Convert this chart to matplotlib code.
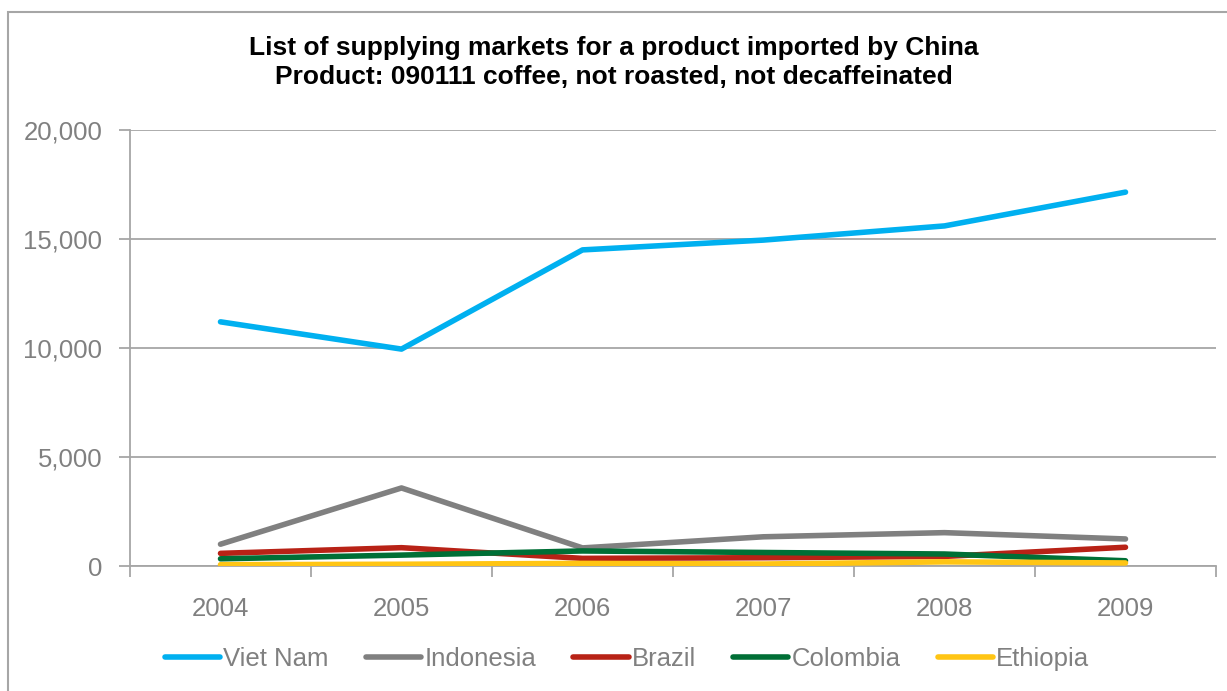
import matplotlib
matplotlib.use("Agg")
import matplotlib.pyplot as plt
from matplotlib.patches import Rectangle
from matplotlib.ticker import FuncFormatter, MultipleLocator
import numpy as np

plt.rcParams['font.family'] = ['Liberation Sans', 'DejaVu Sans']

years = ["2004", "2005", "2006", "2007", "2008", "2009"]
viet_nam = [11200, 9950, 14500, 14950, 15600, 17150]
indonesia = [1000, 3580, 830, 1340, 1530, 1240]
brazil = [580, 840, 350, 380, 440, 860]
colombia = [330, 500, 690, 620, 550, 240]
ethiopia = [60, 80, 120, 90, 190, 140]

series = [
    ("Viet Nam", viet_nam, "#00B0F0"),
    ("Indonesia", indonesia, "#808080"),
    ("Brazil", brazil, "#B82216"),
    ("Colombia", colombia, "#006F36"),
    ("Ethiopia", ethiopia, "#FFC514"),
]

W, H = 1227, 691
fig = plt.figure(figsize=(W / 100, H / 100), dpi=100)
fig.patch.set_facecolor("white")

# outer chart frame
fig.add_artist(Rectangle((8 / W, -0.1), 1.2, (H - 12) / H + 0.1,
                         transform=fig.transFigure, fill=False,
                         edgecolor="#A6A6A6", linewidth=1.5))

ax = fig.add_axes([130 / W, (H - 566) / H, (1216 - 130) / W, (566 - 130) / H])

x = np.arange(len(years))
for name, vals, color in series:
    ax.plot(x, vals, color=color, linewidth=4.0, label=name,
            solid_capstyle="round", solid_joinstyle="round", zorder=3)

ax.set_xlim(-0.5, len(years) - 0.5)
ax.set_ylim(0, 20000)
ax.yaxis.set_major_locator(MultipleLocator(5000))
ax.yaxis.set_major_formatter(FuncFormatter(lambda v, p: f"{int(v):,}"))
ax.set_xticks(x)
ax.set_xticklabels(years)
ax.set_xticks(np.arange(-0.5, len(years)), minor=True)

ax.grid(axis="y", color="#A6A6A6", linewidth=1.3, zorder=0)
for side in ["top", "right"]:
    ax.spines[side].set_visible(False)
for side in ["left", "bottom"]:
    ax.spines[side].set_color("#A6A6A6")
    ax.spines[side].set_linewidth(1.3)

ax.tick_params(axis="y", which="major", length=8, width=1.3, color="#A6A6A6",
               labelcolor="#808080", labelsize=18.5, pad=12)
ax.tick_params(axis="x", which="major", length=0, labelcolor="#808080",
               labelsize=18.5, pad=22)
ax.tick_params(axis="x", which="minor", length=8, width=1.3, color="#A6A6A6")

fig.text(0.5, (H - 48) / H, "List of supplying markets for a product imported by China",
         ha="center", va="center", fontsize=19, fontweight="bold", color="black")
fig.text(0.5, (H - 77) / H, "Product: 090111 coffee, not roasted, not decaffeinated",
         ha="center", va="center", fontsize=19, fontweight="bold", color="black")

leg = fig.legend(loc="center", bbox_to_anchor=(627 / W, (H - 659) / H), ncol=5,
                 frameon=False, fontsize=18.5, handlelength=2.15, handletextpad=0.12,
                 columnspacing=1.45)
for t in leg.get_texts():
    t.set_color("#808080")

fig.savefig("out.png", dpi=100, facecolor="white")
